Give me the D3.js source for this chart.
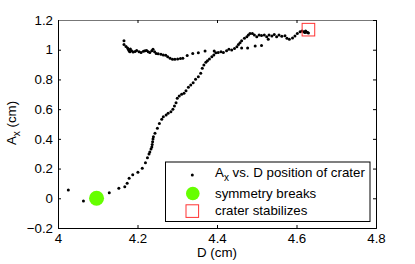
<!DOCTYPE html>
<html>
<head>
<meta charset="utf-8">
<script src="https://cdn.jsdelivr.net/npm/d3@7/dist/d3.min.js"></script>
<style>
  body { margin: 0; background: #fff; }
  text { font-family: "Liberation Sans", Arial, sans-serif; }
</style>
</head>
<body>
<div id="chart"></div>
<script>
// crater position A_x against D (cm)
const upperD = [4.166, 4.166, 4.171, 4.175, 4.177, 4.179, 4.181, 4.182, 4.185, 4.189, 4.194, 4.198,
    4.204, 4.209, 4.215, 4.219, 4.223, 4.227, 4.231, 4.236, 4.239, 4.243, 4.247, 4.252, 4.259, 4.265,
    4.271, 4.276, 4.282, 4.288, 4.294, 4.301, 4.308, 4.314, 4.325, 4.339, 4.353, 4.370, 4.393];
const upperA = [1.061, 1.035, 1.022, 1.011, 1.001, 0.991, 0.987, 1.005, 0.993, 0.985, 0.988, 0.995,
    0.987, 0.981, 0.989, 0.993, 0.995, 0.987, 0.981, 0.993, 1.003, 0.987, 0.974, 0.972, 0.969, 0.964,
    0.962, 0.953, 0.942, 0.935, 0.935, 0.937, 0.941, 0.942, 0.961, 0.974, 0.980, 0.991, 0.991];

const lowerD = [4.026, 4.064, 4.129, 4.153, 4.168, 4.174, 4.179, 4.188, 4.201, 4.212, 4.220, 4.225,
    4.229, 4.231, 4.234, 4.236, 4.237, 4.238, 4.239, 4.240, 4.244, 4.250, 4.255, 4.261, 4.265, 4.272,
    4.277, 4.284, 4.289, 4.293, 4.297, 4.300, 4.305, 4.311, 4.317, 4.322, 4.328, 4.334, 4.340, 4.346,
    4.353, 4.359, 4.363, 4.367, 4.372, 4.376, 4.381, 4.387, 4.392, 4.397, 4.403, 4.410, 4.416, 4.424,
    4.430, 4.437, 4.444, 4.450, 4.454, 4.458, 4.462, 4.469, 4.475, 4.479, 4.483, 4.489, 4.494, 4.500,
    4.506, 4.512, 4.519, 4.525, 4.531, 4.538, 4.544, 4.550, 4.556, 4.563, 4.571, 4.576, 4.582, 4.590,
    4.596, 4.602, 4.609, 4.614, 4.619, 4.621, 4.623, 4.625, 4.628, 4.630,
    4.462, 4.477, 4.496, 4.512, 4.529];
const lowerA = [0.056, -0.018, 0.038, 0.067, 0.078, 0.101, 0.135, 0.159, 0.175, 0.202, 0.240, 0.273,
    0.298, 0.312, 0.332, 0.345, 0.362, 0.381, 0.399, 0.415, 0.437, 0.471, 0.503, 0.532, 0.549, 0.561,
    0.572, 0.583, 0.599, 0.621, 0.643, 0.673, 0.688, 0.700, 0.707, 0.724, 0.747, 0.762, 0.778, 0.801,
    0.818, 0.841, 0.875, 0.897, 0.915, 0.926, 0.937, 0.953, 0.964, 0.980, 0.982, 0.987, 0.981, 0.993,
    1.003, 0.998, 1.009, 1.020, 1.035, 1.047, 1.061, 1.077, 1.087, 1.099, 1.109, 1.109, 1.099, 1.087,
    1.099, 1.096, 1.099, 1.087, 1.099, 1.092, 1.102, 1.087, 1.099, 1.091, 1.094, 1.077, 1.070, 1.079,
    1.092, 1.109, 1.121, 1.126, 1.121, 1.116, 1.126, 1.119, 1.116, 1.112,
    1.011, 1.011, 1.025, 1.028, 1.070];

const breakPoint = [4.097, 0.0];
const stablePoint = [4.630, 1.135];

const xTicks = [4, 4.2, 4.4, 4.6, 4.8];
const yTicks = [-0.2, 0, 0.2, 0.4, 0.6, 0.8, 1, 1.2];
const legendLabels = ["vs. D position of crater", "symmetry breaks", "crater stabilizes"];

let svgW = 415,
    svgH = 264,
    padLeft = 58,
    padRight = 376,
    padTop = 20,
    padBottom = 228,
    tick = 3;

const svg = d3.select("#chart")
    .append("svg")
    .attr("width", svgW)
    .attr("height", svgH);

const x = d3.scaleLinear().domain([4, 4.8]).range([padLeft, padRight]);
const y = d3.scaleLinear().domain([-0.2, 1.2]).range([padBottom, padTop]);

const fmt = d => (d < 0 ? "\u2212" + Math.abs(d) : String(d));

// axes with inward ticks, box on all four sides
const gx = svg.append("g")
    .attr("transform", `translate(0,${padBottom})`)
    .call(d3.axisBottom(x).tickValues(xTicks).tickSize(-tick).tickPadding(6).tickFormat(fmt));
const gy = svg.append("g")
    .attr("transform", `translate(${padLeft},0)`)
    .call(d3.axisLeft(y).tickValues(yTicks).tickSize(-tick).tickPadding(5).tickFormat(fmt));
const gt = svg.append("g")
    .attr("transform", `translate(0,${padTop})`)
    .call(d3.axisTop(x).tickValues(xTicks).tickSize(-tick).tickFormat(""));
const gr = svg.append("g")
    .attr("transform", `translate(${padRight},0)`)
    .call(d3.axisRight(y).tickValues(yTicks).tickSize(-tick).tickFormat(""));

[gx, gy, gt, gr].forEach(g => {
    g.select(".domain").attr("stroke", "#000").attr("stroke-width", 1);
    g.selectAll(".tick line").attr("stroke", "#000");
    g.selectAll("text").attr("font-size", 13.3).attr("fill", "#000")
        .attr("font-family", '"Liberation Sans", Arial, sans-serif');
});
gt.select(".domain").attr("stroke", "#777");

// data dots
const pts = upperD.map((d, i) => [d, upperA[i]])
    .concat(lowerD.map((d, i) => [d, lowerA[i]]));

svg.append("g")
    .selectAll("circle")
    .data(pts)
    .enter()
    .append("circle")
    .attr("cx", d => x(d[0]))
    .attr("cy", d => y(d[1]))
    .attr("r", 1.5)
    .attr("fill", "#000");

svg.append("circle")
    .attr("cx", x(breakPoint[0]))
    .attr("cy", y(breakPoint[1]))
    .attr("r", 7.5)
    .attr("fill", "#66ff00");

svg.append("rect")
    .attr("x", x(stablePoint[0]) - 6.3)
    .attr("y", y(stablePoint[1]) - 6.3)
    .attr("width", 12.6)
    .attr("height", 12.6)
    .attr("fill", "none")
    .attr("stroke", "#ff3333")
    .attr("stroke-width", 1);

// axis titles
svg.append("text")
    .attr("x", (padLeft + padRight) / 2)
    .attr("y", 257)
    .attr("text-anchor", "middle")
    .attr("font-size", 13.3)
    .text("D (cm)");

const yl = svg.append("text")
    .attr("transform", "translate(16,123) rotate(-90)")
    .attr("text-anchor", "middle")
    .attr("font-size", 13.3);
yl.append("tspan").text("A");
yl.append("tspan").attr("font-size", 10).attr("dy", 4).text("x");
yl.append("tspan").attr("dy", -4).text(" (cm)");

// legend
const lg = svg.append("g");
lg.append("rect")
    .attr("x", 165.5)
    .attr("y", 162)
    .attr("width", 204.5)
    .attr("height", 59.5)
    .attr("fill", "#fff")
    .attr("stroke", "#000");

lg.append("circle").attr("cx", 192.3).attr("cy", 175).attr("r", 1.5).attr("fill", "#000");
lg.append("circle").attr("cx", 192.8).attr("cy", 193.5).attr("r", 6.8).attr("fill", "#66ff00");
lg.append("rect").attr("x", 186).attr("y", 204.8).attr("width", 12.6).attr("height", 12.6)
    .attr("fill", "none").attr("stroke", "#ff3333");

const t1 = lg.append("text").attr("x", 215).attr("y", 177).attr("font-size", 13.3);
t1.append("tspan").text("A");
t1.append("tspan").attr("font-size", 10).attr("dy", 4).text("x");
t1.append("tspan").attr("dy", -4).text(" " + legendLabels[0]);

lg.append("text").attr("x", 215).attr("y", 197.5).attr("font-size", 13.3).text(legendLabels[1]);
lg.append("text").attr("x", 215).attr("y", 214.5).attr("font-size", 13.3).text(legendLabels[2]);
</script>
</body>
</html>
